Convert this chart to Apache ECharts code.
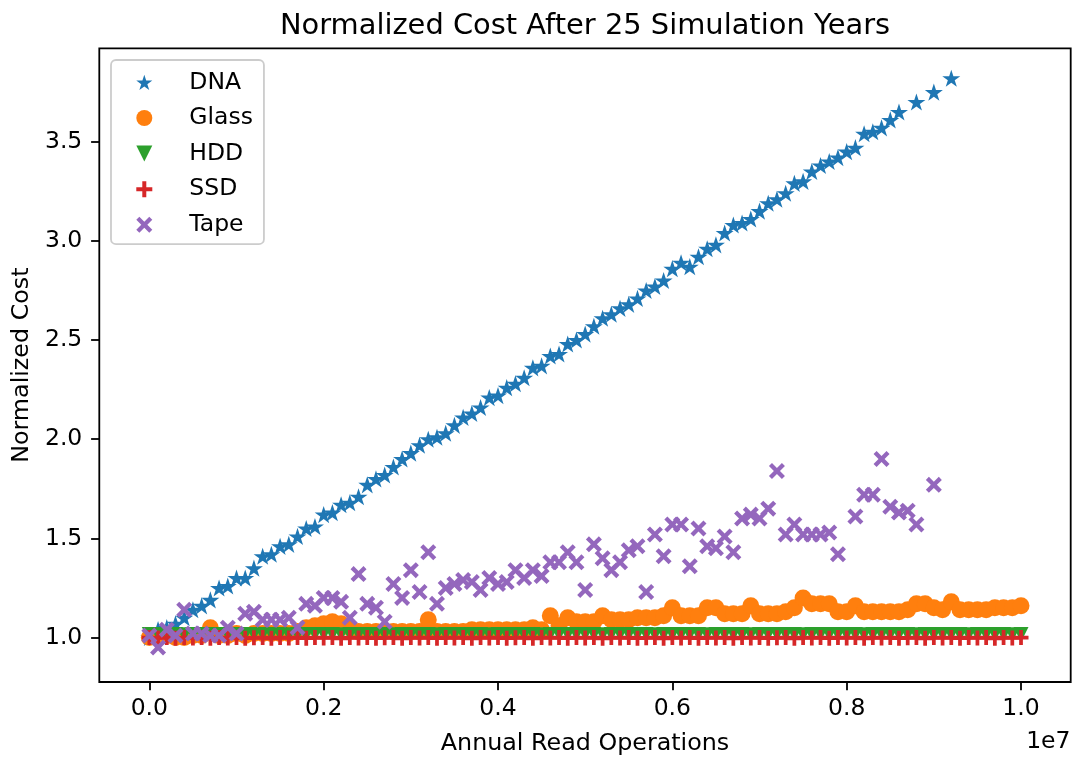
<!DOCTYPE html>
<html>
<head>
<meta charset="utf-8">
<title>Normalized Cost After 25 Simulation Years</title>
<script src="https://cdn.jsdelivr.net/npm/echarts@6/dist/echarts.min.js"></script>
<style>
  html, body { margin: 0; padding: 0; background: #ffffff; }
  #chart { width: 1077px; height: 761px; }
</style>
</head>
<body>
<div id="chart"></div>
<script>
// Annual read operations, in millions (x values shared by every storage medium)
const readOpsMillions = [
  0.0, 0.1, 0.2, 0.3, 0.4, 0.5, 0.6, 0.7, 0.8, 0.9,
  1.0, 1.1, 1.2, 1.3, 1.4, 1.5, 1.6, 1.7, 1.8, 1.9,
  2.0, 2.1, 2.2, 2.3, 2.4, 2.5, 2.6, 2.7, 2.8, 2.9,
  3.0, 3.1, 3.2, 3.3, 3.4, 3.5, 3.6, 3.7, 3.8, 3.9,
  4.0, 4.1, 4.2, 4.3, 4.4, 4.5, 4.6, 4.7, 4.8, 4.9,
  5.0, 5.1, 5.2, 5.3, 5.4, 5.5, 5.6, 5.7, 5.8, 5.9,
  6.0, 6.1, 6.2, 6.3, 6.4, 6.5, 6.6, 6.7, 6.8, 6.9,
  7.0, 7.1, 7.2, 7.3, 7.4, 7.5, 7.6, 7.7, 7.8, 7.9,
  8.0, 8.1, 8.2, 8.3, 8.4, 8.5, 8.6, 8.7, 8.8, 8.9,
  9.0, 9.1, 9.2, 9.3, 9.4, 9.5, 9.6, 9.7, 9.8, 9.9,
  10.0
];

// Normalized cost per medium (null = no result for that workload)
const dnaCost = [
  1.00, 1.04, 1.05, 1.07, 1.10, 1.14, 1.16, 1.19, 1.25, 1.26,
  1.30, 1.30, 1.35, 1.41, 1.42, 1.46, 1.47, 1.51, 1.55, 1.56,
  1.62, 1.63, 1.67, 1.68, 1.71, 1.77, 1.80, 1.82, 1.86, 1.90,
  1.93, 1.97, 2.00, 2.01, 2.03, 2.07, 2.11, 2.13, 2.16, 2.21,
  2.22, 2.26, 2.28, 2.31, 2.36, 2.37, 2.42, 2.43, 2.48, 2.50,
  2.53, 2.57, 2.61, 2.63, 2.66, 2.68, 2.71, 2.75, 2.77, 2.80,
  2.86, 2.89, 2.87, 2.92, 2.96, 2.98, 3.04, 3.08, 3.09, 3.11,
  3.15, 3.19, 3.21, 3.24, 3.29, 3.30, 3.35, 3.38, 3.40, 3.42,
  3.45, 3.47, 3.54, 3.55, 3.57, 3.61, 3.65, null, 3.70, null,
  3.75, null, 3.82
];

const glassCost = [
  1.00, 1.00, 1.01, 1.00, 1.00, 1.01, 1.01, 1.05, 1.01, 1.01,
  1.02, 1.01, 1.02, 1.02, 1.02, 1.02, 1.02, 1.03, 1.05, 1.06,
  1.07, 1.08, 1.07, 1.05, 1.03, 1.03, 1.03, 1.03, 1.03, 1.03,
  1.03, 1.03, 1.09, 1.03, 1.03, 1.03, 1.03, 1.04, 1.04, 1.04,
  1.04, 1.04, 1.04, 1.04, 1.05, 1.04, 1.11, 1.06, 1.10, 1.08,
  1.08, 1.08, 1.11, 1.09, 1.09, 1.09, 1.10, 1.10, 1.10, 1.11,
  1.15, 1.11, 1.11, 1.11, 1.15, 1.15, 1.12, 1.12, 1.12, 1.16,
  1.12, 1.12, 1.12, 1.13, 1.15, 1.20, 1.17, 1.17, 1.17, 1.13,
  1.13, 1.16, 1.13, 1.13, 1.13, 1.13, 1.13, 1.14, 1.17, 1.17,
  1.15, 1.14, 1.18, 1.14, 1.14, 1.14, 1.14, 1.15, 1.15, 1.15,
  1.16
];

const hddCost = [
  1.015, 1.015, 1.016, 1.015, 1.014, 1.015, 1.016, 1.015, 1.015, 1.014,
  1.015, 1.016, 1.015, 1.015, 1.016, 1.015, 1.014, 1.015, 1.015, 1.016,
  1.015, 1.015, 1.014, 1.015, 1.016, 1.015, 1.015, 1.015, 1.014, 1.015,
  1.016, 1.015, 1.015, 1.014, 1.015, 1.015, 1.016, 1.015, 1.015, 1.014,
  1.015, 1.016, 1.015, 1.015, 1.015, 1.014, 1.015, 1.016, 1.015, 1.015,
  1.016, 1.015, 1.014, 1.015, 1.015, 1.016, 1.015, 1.015, 1.014, 1.015,
  1.016, 1.015, 1.015, 1.015, 1.014, 1.015, 1.016, 1.015, 1.015, 1.014,
  1.015, 1.016, 1.015, 1.015, 1.015, 1.014, 1.015, 1.016, 1.015, 1.015,
  1.016, 1.015, 1.014, 1.015, 1.015, 1.016, 1.015, 1.015, 1.014, 1.015,
  1.016, 1.015, 1.015, 1.015, 1.014, 1.015, 1.016, 1.015, 1.015, 1.014,
  1.016
];

const ssdCost = [
  1.000, 0.998, 1.000, 0.997, 1.000, 0.998, 1.000, 0.996, 1.000, 0.998,
  1.000, 0.997, 0.999, 1.000, 0.996, 1.000, 0.998, 1.000, 0.997, 1.000,
  0.998, 1.000, 0.996, 1.000, 0.998, 1.000, 0.997, 0.999, 1.000, 0.996,
  1.000, 0.998, 1.000, 0.997, 1.000, 0.998, 1.000, 0.996, 1.000, 0.998,
  1.000, 0.997, 0.999, 1.000, 0.996, 1.000, 0.998, 1.000, 0.997, 1.000,
  0.998, 1.000, 0.996, 1.000, 0.998, 1.000, 0.997, 0.999, 1.000, 0.996,
  1.000, 0.998, 1.000, 0.997, 1.000, 0.998, 1.000, 0.996, 1.000, 0.998,
  1.000, 0.997, 0.999, 1.000, 0.996, 1.000, 0.998, 1.000, 0.997, 1.000,
  0.998, 1.000, 0.996, 1.000, 0.998, 1.000, 0.997, 0.999, 1.000, 0.996,
  1.000, 0.998, 1.000, 0.997, 1.000, 0.998, 1.000, 0.996, 1.000, 0.998,
  1.000
];

const tapeCost = [
  1.01, 0.95, 1.04, 1.01, 1.14, 1.02, 1.02, 1.01, 1.01, 1.05,
  1.02, 1.12, 1.13, 1.09, 1.09, 1.09, 1.10, 1.05, 1.17, 1.16,
  1.20, 1.20, 1.18, 1.10, 1.32, 1.17, 1.15, 1.08, 1.27, 1.20,
  1.34, 1.23, 1.43, 1.17, 1.25, 1.27, 1.29, 1.28, 1.24, 1.30,
  1.27, 1.28, 1.34, 1.30, 1.34, 1.31, 1.38, 1.38, 1.43, 1.38,
  1.24, 1.47, 1.40, 1.34, 1.38, 1.44, 1.46, 1.23, 1.52, 1.41,
  1.57, 1.57, 1.36, 1.55, 1.46, 1.45, 1.51, 1.43, 1.60, 1.62,
  1.60, 1.65, 1.84, 1.52, 1.57, 1.52, 1.52, 1.52, 1.53, 1.42,
  null, 1.61, 1.72, 1.72, 1.90, 1.66, 1.63, 1.64, 1.57, null,
  1.77
];

// Tick positions (raw read counts; labels are shown in units of 1e7)
const xTicks = [0, 2000000, 4000000, 6000000, 8000000, 10000000];
const yTicks = [1.0, 1.5, 2.0, 2.5, 3.0, 3.5];

const FONT = '"DejaVu Sans", "Liberation Sans", sans-serif';

// Marker outlines (20x20 boxes)
const STAR = 'path://M10 0 L12.245 6.91 L19.511 6.91 L13.633 11.18 L15.878 18.09 L10 13.82 L4.122 18.09 L6.367 11.18 L0.489 6.91 L7.755 6.91 Z';
const TRI_DOWN = 'path://M0 0 L20 0 L10 20 Z';
const PLUS = 'path://M7.5 0 L12.5 0 L12.5 7.5 L20 7.5 L20 12.5 L12.5 12.5 L12.5 20 L7.5 20 L7.5 12.5 L0 12.5 L0 7.5 L7.5 7.5 Z';
const CROSS = 'path://M0 3.8 L3.8 0 L10 6.2 L16.2 0 L20 3.8 L13.8 10 L20 16.2 L16.2 20 L10 13.8 L3.8 20 L0 16.2 L6.2 10 Z';

function pairs(values) {
  const out = [];
  values.forEach(function (v, i) {
    if (v !== null) out.push([readOpsMillions[i] * 1e6, v]);
  });
  return out;
}

const chart = echarts.init(document.getElementById('chart'), null, { renderer: 'canvas' });

const option = {
  animation: false,
  backgroundColor: '#ffffff',
  grid: {
    left: 99.3, top: 48.3, width: 971.4, height: 637.7,
    show: true, borderColor: '#000000', borderWidth: 1.8,
    backgroundColor: 'transparent', containLabel: false
  },
  xAxis: {
    type: 'value',
    min: -574000, max: 10570000,
    name: 'Annual Read Operations',
    nameLocation: 'middle',
    nameGap: 50,
    nameTextStyle: { fontFamily: FONT, fontSize: 23.8, color: '#000000' },
    axisLine: { show: false, onZero: false },
    splitLine: { show: false },
    axisTick: {
      show: true, length: 8.2, customValues: xTicks,
      lineStyle: { color: '#000000', width: 1.8 }
    },
    axisLabel: {
      customValues: xTicks, margin: 15.2,
      fontFamily: FONT, fontSize: 23.5, color: '#000000',
      formatter: function (v) { return (v / 1e7).toFixed(1); }
    }
  },
  yAxis: {
    type: 'value',
    min: 0.776, max: 3.971,
    name: 'Normalized Cost',
    nameLocation: 'middle',
    nameRotate: 90,
    nameGap: 64,
    nameTextStyle: { fontFamily: FONT, fontSize: 23.8, color: '#000000' },
    axisLine: { show: false, onZero: false },
    splitLine: { show: false },
    axisTick: {
      show: true, length: 8.2, customValues: yTicks,
      lineStyle: { color: '#000000', width: 1.8 }
    },
    axisLabel: {
      customValues: yTicks, margin: 17,
      fontFamily: FONT, fontSize: 23.5, color: '#000000',
      formatter: function (v) { return v.toFixed(1); }
    }
  },
  legend: {
    orient: 'vertical',
    left: 111, top: 60,
    padding: [10.4, 11, 7.4, 25.3],
    itemWidth: 16, itemHeight: 16, itemGap: 11.6,
    backgroundColor: 'rgba(255,255,255,0.8)',
    borderColor: '#cccccc', borderWidth: 1.8, borderRadius: 5,
    textStyle: {
      fontFamily: FONT, fontSize: 23.5, color: '#000000',
      lineHeight: 16, padding: [0, 0, 0, 32]
    },
    data: ['DNA', 'Glass', 'HDD', 'SSD', 'Tape']
  },
  graphic: [
    {
      type: 'text', x: 585, y: 26.5, silent: true,
      style: {
        text: 'Normalized Cost After 25 Simulation Years',
        fill: '#000000', font: '28.9px ' + FONT,
        align: 'center', verticalAlign: 'middle'
      }
    },
    {
      type: 'text', x: 1070.5, y: 742, silent: true,
      style: {
        text: '1e7', fill: '#000000', font: '23.5px ' + FONT,
        align: 'right', verticalAlign: 'middle'
      }
    }
  ],
  series: [
    {
      name: 'DNA', type: 'scatter', data: pairs(dnaCost),
      symbol: STAR, symbolSize: [18, 17.1],
      itemStyle: { color: '#1f77b4', opacity: 1 }
    },
    {
      name: 'Glass', type: 'scatter', data: pairs(glassCost),
      symbol: 'circle', symbolSize: 17,
      itemStyle: { color: '#ff7f0e', opacity: 1 }
    },
    {
      name: 'HDD', type: 'scatter', data: pairs(hddCost),
      symbol: TRI_DOWN, symbolSize: 15,
      itemStyle: { color: '#2ca02c', opacity: 1 }
    },
    {
      name: 'SSD', type: 'scatter', data: pairs(ssdCost),
      symbol: PLUS, symbolSize: 15,
      itemStyle: { color: '#d62728', opacity: 1 }
    },
    {
      name: 'Tape', type: 'scatter', data: pairs(tapeCost),
      symbol: CROSS, symbolSize: 16,
      itemStyle: { color: '#9467bd', opacity: 1 }
    }
  ]
};

chart.setOption(option);
</script>
</body>
</html>
